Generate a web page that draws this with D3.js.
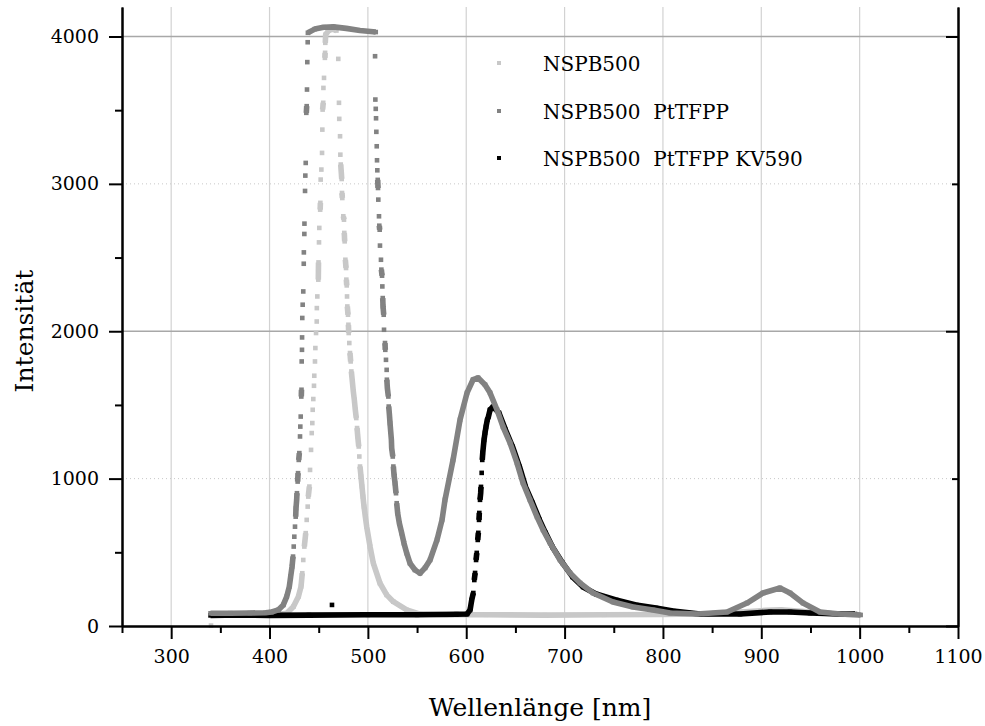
<!DOCTYPE html>
<html>
<head>
<meta charset="utf-8">
<script src="https://cdn.jsdelivr.net/npm/d3@7"></script>
<style>
body { margin: 0; background: #fff; }
svg text { font-family: "DejaVu Serif", serif; fill: #000; }
</style>
</head>
<body>
<svg id="chart"></svg>
<script>

// values: [wavelength nm, intensity]
var nspb = [
  [342,82],[360,80],[380,78],[400,80],[412,82],[417.5,86],[424.2,131],[429.3,199],[432,267],[433.3,358],
  [434.3,448],[435.4,539],[436.8,630],[437.8,720],[438.8,810],[439.4,878],[440.5,946],[441.2,1059],
  [442.2,1195],[442.9,1309],[443.5,1377],[443.9,1467],[444.5,1540],[445.2,1630],[445.5,1698],[446.2,1795],
  [446.6,1886],[447.3,1988],[448,2066],[448.1,2157],[448.6,2236],[449.6,2350],[449.7,2406],[449.8,2467],
  [450.3,2603],[450.6,2701],[451.5,2825],[451.7,2871],[452,3029],[452.7,3097],[453.4,3210],[453.7,3368],
  [454,3504],[454.6,3550],[454.8,3651],[455.4,3719],[456.3,3855],[456.5,3889],[456.7,3957],[457.1,4013],
  [460,4040],[464,4050],[468,4040],[469.9,3848],[470.6,3550],[470.9,3441],[471.7,3323],[472,3198],
  [472.4,3131],[473,3074],[473.4,3033],[473.7,2938],[474,2904],[475,2780],[475.7,2757],[476,2667],
  [476.4,2610],[477.1,2485],[477.8,2429],[478.1,2350],[478.5,2311],[478.8,2236],[479.1,2168],[479.8,2112],
  [480.2,2044],[480.5,1988],[481.1,1920],[481.8,1852],[482.5,1795],[483.2,1727],[484.2,1659],[485.2,1591],
  [486.2,1535],[487.2,1467],[488.2,1411],[489,1343],[489.7,1286],[490.7,1218],[491.3,1150],[492,1082],
  [493,1014],[494,946],[495,878],[496.1,810],[497.4,742],[498.8,674],[502.2,539],[505.5,426],[512.3,290],
  [519.1,211],[525.9,165],[539.5,109],[553,81],[580,76],[620,76],[680,74],[740,76],[800,78],[850,84],
  [880,95],[905,106],[920,110],[940,100],[960,88],[980,80],[1000,76]
];
var nspbStray = [[340.5,3]];

var nspbPt = [
  [340,86],[360,87],[380,88],[396,90],[402.2,95],[408.9,109],[414,143],[417.5,199],[420.1,267],[421.5,335],
  [422.9,403],[423.9,471],[424.6,539],[425.2,606],[425.9,674],[426.6,742],[426.9,799],[427.6,856],
  [427.9,901],[428.6,980],[429,1037],[429.7,1127],[430.3,1173],[431,1286],[431.3,1353],[431.7,1421],
  [432.3,1557],[432.5,1603],[432.7,1795],[433,1874],[433.1,1958],[433.3,2090],[433.7,2180],[434.3,2270],
  [434.8,2458],[434.9,2535],[435.4,2660],[435.5,2730],[436.1,2952],[436.4,3056],[436.8,3142],[437.4,3482],
  [437.8,3527],[438.1,3640],[438.4,3826],[438.8,3961],[439,4025],[446,4050],[455,4063],[465,4065],
  [478,4055],[492,4040],[508,4030],[507.3,3866],[507.6,3572],[508,3509],[508.3,3445],[508.6,3353],
  [509,3255],[509.3,3160],[509.6,3092],[510,3027],[510.3,2972],[510.6,2893],[511.3,2780],[511.6,2716],
  [512,2689],[512.3,2581],[513.3,2485],[513.7,2418],[514.4,2377],[514.7,2304],[515.1,2225],[515.4,2168],
  [516.1,2112],[516.4,2010],[517.4,1920],[517.7,1874],[518.4,1806],[519.1,1738],[519.3,1671],[519.8,1614],
  [520.8,1557],[521.2,1489],[521.9,1433],[522.5,1377],[523.2,1320],[523.9,1263],[524.2,1207],[525.3,1150],
  [525.9,1082],[526.6,1025],[527.6,969],[528.6,901],[529.3,833],[530.3,765],[532,697],[534.4,630],
  [536.7,562],[539.5,494],[542.8,426],[547.9,380],[553,358],[558.1,394],[563.2,448],[570.3,584],
  [575.4,720],[578.4,856],[586.6,1127],[593.7,1399],[600.8,1582],[606.9,1671],[612,1684],[619.1,1637],
  [624.2,1582],[631.3,1467],[637.4,1351],[644.5,1243],[651.6,1107],[657.7,971],[664.8,856],[672,740],
  [678.1,652],[685.2,564],[695.4,448],[705.5,360],[715.7,292],[728.9,224],[749.2,163],[769.6,129],
  [789.9,109],[807.2,88],[834.7,81],[865.2,95],[885.5,156],[901.8,224],[919,258],[929.2,224],
  [942.4,156],[959.7,95],[980.1,81],[1001,75]
];

var nspbPtKv = [
  [340,72],[370,75],[400,72],[440,74],[500,76],[550,76],[590,80],[600.8,81],[603.9,109],[605.6,177],
  [607.2,224],[608.2,312],[609,360],[610,448],[610.7,496],[611.7,584],[612.3,632],[613,720],[613.3,767],
  [614,856],[614.7,903],[615,944],[615.7,1039],[616.3,1127],[616.8,1175],[617.4,1216],[618.1,1263],
  [619.1,1311],[620.1,1351],[621.4,1399],[622.5,1419],[624.2,1467],[627.2,1487],[633.3,1446],[639.9,1331],
  [647.1,1216],[654.2,1080],[660.3,944],[667.4,835],[674.5,720],[680.6,632],[687.7,536],[697.9,428],
  [708.1,333],[718.8,265],[732,217],[752.3,177],[772.6,143],[792.9,122],[810.3,102],[837.7,81],
  [878.4,81],[908.9,95],[929.2,95],[949.6,88],[980.1,81],[995.3,81]
];
var nspbPtKvStray = [[463.5,143]];

var seriesNames = ["NSPB500", "NSPB500  PtTFPP", "NSPB500  PtTFPP KV590"];
var xTicks = [300, 400, 500, 600, 700, 800, 900, 1000, 1100];
var xMinor = [250, 350, 450, 550, 650, 750, 850, 950, 1050];
var yTicks = [0, 1000, 2000, 3000, 4000];
var yMinor = [500, 1500, 2500, 3500];

var colors = ["#c8c8c8", "#828282", "#000000"];

var W = 985, H = 726;
var svg = d3.select('#chart').attr('width', W).attr('height', H);
svg.append('rect').attr('width', W).attr('height', H).attr('fill', '#fff');

var x = d3.scaleLinear().domain([250, 1100]).range([122, 958]);
var y = d3.scaleLinear().domain([0, 4200]).range([626, 7]);

// grid
var grid = svg.append('g');
grid.selectAll('.vg')
    .data(xTicks.filter(function(d) { return d < 1100; }))
    .enter().append('line')
    .attr('x1', function(d) { return x(d); })
    .attr('x2', function(d) { return x(d); })
    .attr('y1', y(4200)).attr('y2', y(0))
    .attr('stroke', '#d2d2d2').attr('stroke-width', 1.2);
grid.selectAll('.hg')
    .data(yTicks.filter(function(d) { return d > 0; }))
    .enter().append('line')
    .attr('x1', x(250)).attr('x2', x(1100))
    .attr('y1', function(d) { return y(d); })
    .attr('y2', function(d) { return y(d); })
    .attr('stroke', function(d) { return d % 2000 === 0 ? '#a8a8a8' : '#c8c8c8'; })
    .attr('stroke-width', function(d) { return d % 2000 === 0 ? 1.3 : 1; })
    .attr('stroke-dasharray', function(d) { return d % 2000 === 0 ? null : '1,3'; });

// split a series into runs; steep jumps between samples stay as separate dots
function runs(data) {
    var out = [], cur = [data[0]];
    for (var i = 1; i < data.length; i++) {
        var a = data[i - 1], b = data[i];
        var dx = Math.abs(x(b[0]) - x(a[0])), dy = Math.abs(y(b[1]) - y(a[1]));
        if (dy <= 9 || dy <= 12 * dx) cur.push(b);
        else { out.push(cur); cur = [b]; }
    }
    out.push(cur);
    return out;
}

var line = d3.line()
    .x(function(d) { return x(d[0]); })
    .y(function(d) { return y(d[1]); });

var ms = 4.6, lw = 5.6;
function drawSeries(data, stray, color) {
    var g = svg.append('g');
    g.selectAll('path')
        .data(runs(data).filter(function(r) { return r.length > 1; }))
        .enter().append('path')
        .attr('d', line)
        .attr('fill', 'none')
        .attr('stroke', color)
        .attr('stroke-width', lw)
        .attr('stroke-linejoin', 'round')
        .attr('stroke-linecap', 'butt');
    g.selectAll('rect')
        .data(data.concat(stray))
        .enter().append('rect')
        .attr('x', function(d) { return x(d[0]) - ms / 2; })
        .attr('y', function(d) { return y(d[1]) - ms / 2; })
        .attr('width', ms).attr('height', ms)
        .attr('fill', color);
}

drawSeries(nspb, nspbStray, colors[0]);
drawSeries(nspbPtKv, nspbPtKvStray, colors[2]);
drawSeries(nspbPt, [], colors[1]);

// axes
function styleAxis(g) {
    g.attr('font-family', null).attr('font-size', null);
    g.selectAll('path, line').attr('stroke', '#000').attr('stroke-width', 2);
    g.selectAll('text').style('font-size', '19px').attr('fill', '#000');
}

svg.append('g').attr('transform', 'translate(0,626)')
    .call(d3.axisBottom(x).tickValues(xMinor).tickSize(7).tickSizeOuter(0).tickFormat(''))
    .call(styleAxis);
svg.append('g').attr('transform', 'translate(0,626)')
    .call(d3.axisBottom(x).tickValues(xTicks).tickSize(13).tickSizeOuter(0).tickPadding(11).tickFormat(d3.format('d')))
    .call(styleAxis);

svg.append('g').attr('transform', 'translate(122,0)')
    .call(d3.axisLeft(y).tickValues(yMinor).tickSize(7).tickSizeOuter(0).tickFormat(''))
    .call(styleAxis);
svg.append('g').attr('transform', 'translate(122,0)')
    .call(d3.axisLeft(y).tickValues(yTicks).tickSize(13).tickSizeOuter(0).tickPadding(10).tickFormat(d3.format('d')))
    .call(styleAxis);

svg.append('g').attr('transform', 'translate(958,0)')
    .call(d3.axisLeft(y).tickValues([1000, 3000]).tickSize(6).tickSizeOuter(0).tickFormat(''))
    .call(styleAxis);
svg.append('g').attr('transform', 'translate(958,0)')
    .call(d3.axisLeft(y).tickValues([0, 2000, 4000]).tickSize(12).tickSizeOuter(0).tickFormat(''))
    .call(styleAxis);

// axis titles
svg.append('text')
    .attr('x', 540).attr('y', 716)
    .attr('text-anchor', 'middle')
    .style('font-size', '25px')
    .text('Wellenlänge [nm]');
svg.append('text')
    .attr('transform', 'translate(33,331) rotate(-90)')
    .attr('text-anchor', 'middle')
    .style('font-size', '25px')
    .text('Intensität');

// legend
var legend = svg.append('g');
var legY = [63, 111, 158];
seriesNames.forEach(function(name, i) {
    legend.append('rect')
        .attr('x', 499 - 2).attr('y', legY[i] - 2)
        .attr('width', 4).attr('height', 4)
        .attr('fill', colors[i]);
    legend.append('text')
        .attr('x', 543).attr('y', legY[i] + 1)
        .attr('dy', '0.35em')
        .style('font-size', '20px')
        .style('white-space', 'pre')
        .text(name);
});

</script>
</body>
</html>
